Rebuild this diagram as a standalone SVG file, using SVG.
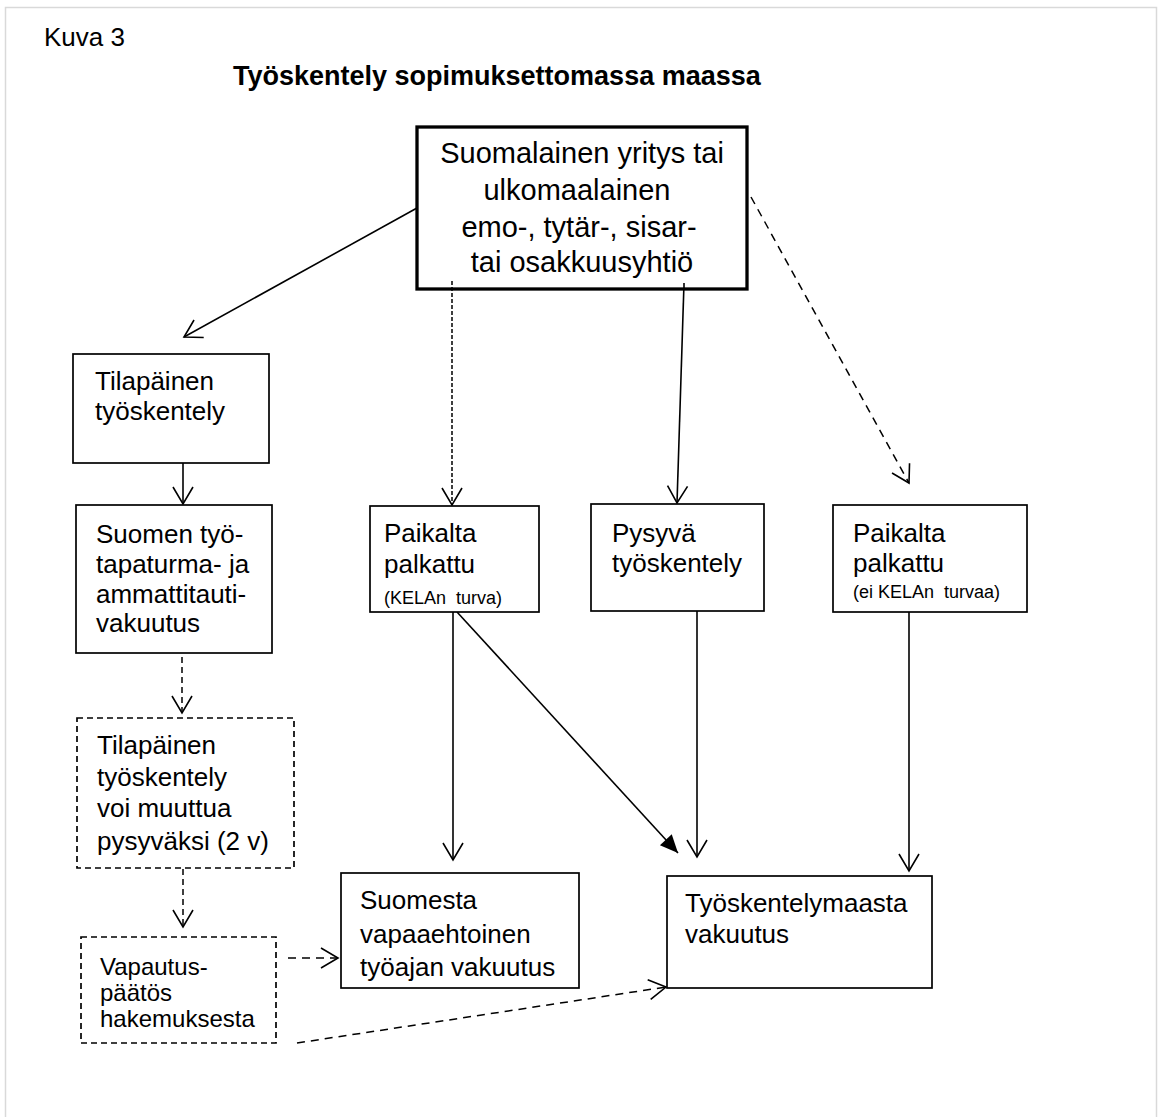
<svg xmlns="http://www.w3.org/2000/svg" width="1171" height="1117" viewBox="0 0 1171 1117">
<defs>
<style>
text{font-family:"Liberation Sans",Arial,sans-serif;fill:#000}
.t26{font-size:26px}
.t29{font-size:29px;text-anchor:middle}
.t24{font-size:24px}
.t18{font-size:18px;white-space:pre}
.box{fill:#fff;stroke:#000;stroke-width:1.7}
.dbox{fill:#fff;stroke:#000;stroke-width:1.7;stroke-dasharray:6 4}
.ln{fill:none;stroke:#000;stroke-width:1.6}
.dl{fill:none;stroke:#000;stroke-width:1.5;stroke-dasharray:6 4}
.dl2{fill:none;stroke:#000;stroke-width:1.5;stroke-dasharray:4 2}
.dl3{fill:none;stroke:#000;stroke-width:1.5;stroke-dasharray:8 6}
</style>
<marker id="open" markerUnits="userSpaceOnUse" orient="auto" refX="0" refY="0" markerWidth="20" markerHeight="20" style="overflow:visible">
<path d="M-17,-10 L0,0 L-17,10" fill="none" stroke="#000" stroke-width="1.6" stroke-dasharray="none"/>
</marker>
<marker id="filled" markerUnits="userSpaceOnUse" orient="auto" refX="0" refY="0" markerWidth="20" markerHeight="20" style="overflow:visible">
<path d="M-18,-8 L0,0 L-18,8 Z" fill="#000" stroke="none"/>
</marker>
</defs>
<rect x="0" y="0" width="1171" height="1117" fill="#fff"/>
<rect x="5.5" y="7.5" width="1151" height="1130" fill="none" stroke="#d9d9d9" stroke-width="1.5"/>
<text class="t26" x="44" y="46">Kuva 3</text>
<text x="233" y="85" style="font-size:27px;font-weight:bold">Työskentely sopimuksettomassa maassa</text>

<g id="connectors">
<path class="ln" d="M417,208 L184,337" marker-end="url(#open)"/>
<path class="ln" d="M183,463 L183,504" marker-end="url(#open)"/>
<path class="dl" d="M182,657 L182,713" marker-end="url(#open)"/>
<path class="dl" d="M183,869 L183,927" marker-end="url(#open)"/>
<path class="dl3" d="M288,958 L338,958" marker-end="url(#open)"/>
<path class="dl3" d="M297,1043 L666,987" marker-end="url(#open)"/>
<path class="dl2" d="M452,281 L452,505" marker-end="url(#open)"/>
<path class="ln" d="M684,283 L677,503" marker-end="url(#open)"/>
<path class="dl3" d="M751,197 L909,483" marker-end="url(#open)"/>
<path class="ln" d="M453,612 L453,860" marker-end="url(#open)"/>
<path class="ln" d="M457,612 L678,853" marker-end="url(#filled)"/>
<path class="ln" d="M697,611 L697,857" marker-end="url(#open)"/>
<path class="ln" d="M909,612 L909,871" marker-end="url(#open)"/>
</g>

<g id="node-top">
<rect x="417" y="127" width="330" height="162" fill="#fff" stroke="#000" stroke-width="3.3"/>
<text class="t29" x="582" y="163">Suomalainen yritys tai</text>
<text class="t29" x="577" y="200">ulkomaalainen</text>
<text class="t29" x="579" y="237">emo-, tytär-, sisar-</text>
<text class="t29" x="582" y="272">tai osakkuusyhtiö</text>
</g>
<path class="dl2" d="M452,281 L452,289"/>
<path class="ln" d="M684,283 L684,289"/>

<g id="node-tilapainen">
<rect class="box" x="73" y="354" width="196" height="109"/>
<text class="t26" x="95" y="390">Tilapäinen</text>
<text class="t26" x="95" y="420">työskentely</text>
</g>

<g id="node-suomen">
<rect class="box" x="76" y="505" width="196" height="148"/>
<text class="t26" x="96" y="543">Suomen työ-</text>
<text class="t26" x="96" y="573">tapaturma- ja</text>
<text class="t26" x="96" y="603">ammattitauti-</text>
<text class="t26" x="96" y="632">vakuutus</text>
</g>

<g id="node-tilapainen2">
<rect class="dbox" x="77" y="718" width="217" height="150"/>
<text class="t26" x="97" y="754">Tilapäinen</text>
<text class="t26" x="97" y="786">työskentely</text>
<text class="t26" x="97" y="817">voi muuttua</text>
<text class="t26" x="97" y="850">pysyväksi (2 v)</text>
</g>

<g id="node-vapautus">
<rect class="dbox" x="81" y="937" width="195" height="106"/>
<text class="t24" x="100" y="975">Vapautus-</text>
<text class="t24" x="100" y="1001">päätös</text>
<text class="t24" x="100" y="1027">hakemuksesta</text>
</g>

<g id="node-paikalta-kela">
<rect class="box" x="370" y="506" width="169" height="106"/>
<text class="t26" x="384" y="542">Paikalta</text>
<text class="t26" x="384" y="573">palkattu</text>
<text class="t18" x="384" y="604">(KELAn  turva)</text>
</g>

<g id="node-pysyva">
<rect class="box" x="591" y="504" width="173" height="107"/>
<text class="t26" x="612" y="542">Pysyvä</text>
<text class="t26" x="612" y="572">työskentely</text>
</g>

<g id="node-paikalta-ei">
<rect class="box" x="833" y="505" width="194" height="107"/>
<text class="t26" x="853" y="542">Paikalta</text>
<text class="t26" x="853" y="572">palkattu</text>
<text class="t18" x="853" y="598">(ei KELAn  turvaa)</text>
</g>

<g id="node-suomesta">
<rect class="box" x="341" y="873" width="238" height="115"/>
<text class="t26" x="360" y="909">Suomesta</text>
<text class="t26" x="360" y="943">vapaaehtoinen</text>
<text class="t26" x="360" y="976">työajan vakuutus</text>
</g>

<g id="node-tyoskentelymaasta">
<rect class="box" x="667" y="876" width="265" height="112"/>
<text class="t26" x="685" y="912">Työskentelymaasta</text>
<text class="t26" x="685" y="943">vakuutus</text>
</g>
</svg>
